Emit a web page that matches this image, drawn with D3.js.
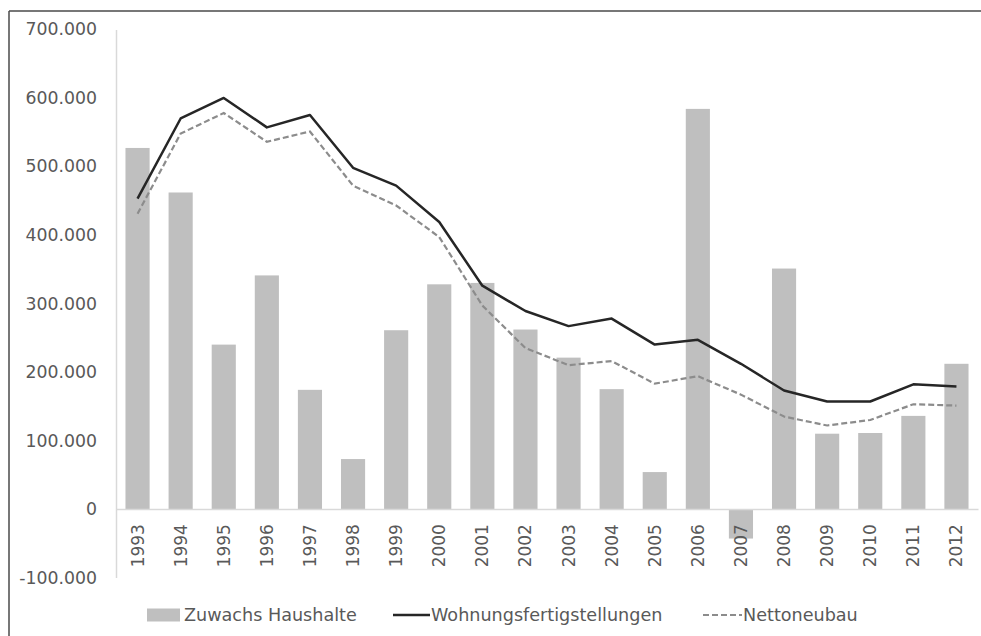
<!DOCTYPE html>
<html>
<head>
<meta charset="utf-8">
<script src="https://cdn.jsdelivr.net/npm/d3@7"></script>
<style>
  html, body { margin: 0; padding: 0; background: #fff; }
  svg { display: block; }
  text { font-family: "DejaVu Sans", sans-serif; fill: #595959; }
</style>
</head>
<body>
<script>
const years = ["1993","1994","1995","1996","1997","1998","1999","2000","2001","2002","2003","2004","2005","2006","2007","2008","2009","2010","2011","2012"];
const zuwachsHaushalte = [527000, 462000, 240000, 341000, 174000, 73000, 261000, 328000, 330000, 262000, 221000, 175000, 54000, 584000, -43000, 351000, 110000, 111000, 136000, 212000];
const wohnungsfertigstellungen = [453000, 570000, 600000, 557000, 575000, 498000, 472000, 419000, 326000, 289000, 267000, 278000, 240000, 247000, 212000, 173000, 157000, 157000, 182000, 179000];
const nettoneubau = [431000, 548000, 578000, 536000, 551000, 472000, 443000, 397000, 297000, 235000, 210000, 216000, 183000, 194000, 167000, 135000, 122000, 130000, 153000, 151000];
const yTicks = [-100000, 0, 100000, 200000, 300000, 400000, 500000, 600000, 700000];
const seriesNames = ["Zuwachs Haushalte", "Wohnungsfertigstellungen", "Nettoneubau"];

const W = 981, H = 636;
const svg = d3.select("body").append("svg").attr("width", W).attr("height", H);

// outer frame (top and left edges visible)
svg.append("line").attr("x1", 9).attr("x2", W).attr("y1", 11).attr("y2", 11)
  .attr("stroke", "#4a4a4a").attr("stroke-width", 1.5);
svg.append("line").attr("x1", 9).attr("x2", 9).attr("y1", 11).attr("y2", H)
  .attr("stroke", "#4a4a4a").attr("stroke-width", 1.5);

const x = d3.scaleBand().domain(years).range([116, 978]).paddingInner(0.44).paddingOuter(0.22);
const y = d3.scaleLinear().domain([-100000, 700000]).range([577.6, 29.4]);
const cx = d => x(d) + x.bandwidth() / 2;

const de = d3.formatLocale({ decimal: ",", thousands: ".", grouping: [3], currency: ["", " €"], minus: "-" });
const fmt = de.format(",d");

// y axis
const yAxis = svg.append("g").attr("transform", "translate(116,0)")
  .call(d3.axisLeft(y).tickValues(yTicks).tickFormat(fmt).tickSize(0).tickPadding(19));
yAxis.select(".domain").attr("stroke", "#d9d9d9").attr("stroke-width", 1.5);
yAxis.selectAll("text").attr("font-size", 17.3).style("fill", "#595959")
  .attr("font-family", "DejaVu Sans");

// bars
svg.append("g").selectAll("rect").data(years).join("rect")
  .attr("x", d => x(d))
  .attr("width", x.bandwidth())
  .attr("y", (d, i) => y(Math.max(0, zuwachsHaushalte[i])))
  .attr("height", (d, i) => Math.abs(y(zuwachsHaushalte[i]) - y(0)))
  .attr("fill", "#bfbfbf");

// x axis at zero
const xAxis = svg.append("g").attr("transform", `translate(0,${y(0)})`)
  .call(d3.axisBottom(x).tickSize(0).tickSizeOuter(0));
xAxis.select(".domain").attr("stroke", "#d9d9d9").attr("stroke-width", 1.5);
xAxis.selectAll("text")
  .attr("font-size", 17).attr("font-family", "DejaVu Sans").style("fill", "#595959")
  .attr("text-anchor", "end")
  .attr("transform", "rotate(-90)")
  .attr("x", -15).attr("y", 0).attr("dy", "0.35em");

// lines
const line = vals => d3.line().x((d, i) => cx(years[i])).y(d => y(d))(vals);
svg.append("path").attr("d", line(nettoneubau))
  .attr("fill", "none").attr("stroke", "#8c8c8c").attr("stroke-width", 2.2)
  .attr("stroke-dasharray", "6,3");
svg.append("path").attr("d", line(wohnungsfertigstellungen))
  .attr("fill", "none").attr("stroke", "#262626").attr("stroke-width", 2.5)
  .attr("stroke-linejoin", "round");

// legend
const lg = svg.append("g");
const ly = 615;
const lfs = 17.6;
lg.append("rect").attr("x", 147).attr("y", ly - 6.5).attr("width", 33).attr("height", 13).attr("fill", "#bfbfbf");
lg.append("text").attr("x", 184).attr("y", ly).attr("dy", "0.35em").attr("font-size", lfs).text(seriesNames[0]);
lg.append("line").attr("x1", 393).attr("x2", 430).attr("y1", ly).attr("y2", ly)
  .attr("stroke", "#262626").attr("stroke-width", 2.5);
lg.append("text").attr("x", 431).attr("y", ly).attr("dy", "0.35em").attr("font-size", lfs).text(seriesNames[1]);
lg.append("line").attr("x1", 703).attr("x2", 742).attr("y1", ly).attr("y2", ly)
  .attr("stroke", "#8c8c8c").attr("stroke-width", 2.2).attr("stroke-dasharray", "6,3");
lg.append("text").attr("x", 743).attr("y", ly).attr("dy", "0.35em").attr("font-size", lfs).text(seriesNames[2]);
</script>
</body>
</html>
